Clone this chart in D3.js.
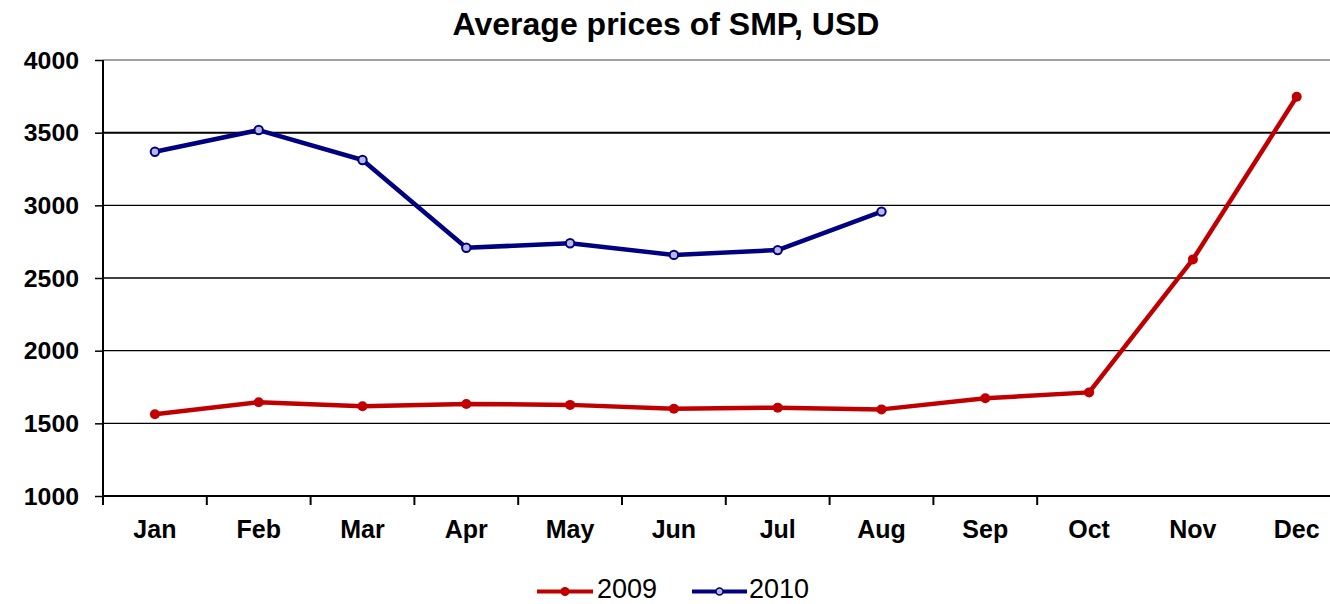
<!DOCTYPE html>
<html><head><meta charset="utf-8">
<script src="https://cdn.jsdelivr.net/npm/d3@7"></script>
<style>
html,body{margin:0;padding:0;background:#fff;}
svg{display:block;}
text{font-family:"Liberation Sans",Arial,sans-serif;}
</style></head>
<body>
<svg id="chart" width="1330" height="604"></svg>
<script>
const months = ["Jan","Feb","Mar","Apr","May","Jun","Jul","Aug","Sep","Oct","Nov","Dec"];
const values2009 = [1562,1645,1617,1633,1627,1600,1608,1596,1672,1713,2628,3747];
const values2010 = [3369,3518,3312,2708,2739,2659,2692,2957];
const yTicks = [1000,1500,2000,2500,3000,3500,4000];
const seriesNames = ["2009","2010"];
const colors = {"2009":"#C00000","2010":"#000080"};

const svg = d3.select("#chart");
const x = d3.scaleBand().domain(months).range([103, 103 + 12*103.8]);
const y = d3.scaleLinear().domain([1000,4000]).range([496,60]);

// title
svg.append("text").attr("x",666).attr("y",35).attr("text-anchor","middle")
  .attr("font-size",32).attr("font-weight","bold").attr("fill","#000")
  .text("Average prices of SMP, USD");

// gridlines
svg.append("g").selectAll("line").data(yTicks.filter(d=>d>1000)).join("line")
  .attr("x1",103).attr("x2",1330)
  .attr("y1",d=>y(d)).attr("y2",d=>y(d))
  .attr("stroke",d=>d===4000?"#808080":"#000")
  .attr("stroke-width",d=>d===3500?2:1.3);

// y axis
const yAxis = d3.axisLeft(y).tickValues(yTicks).tickSize(8).tickPadding(14).tickFormat(d3.format("d"));
const gy = svg.append("g").attr("transform","translate(103,0)").call(yAxis);
gy.select(".domain").attr("stroke","#000").attr("stroke-width",2).attr("d","M0,60V496");
gy.selectAll(".tick line").attr("stroke","#000").attr("stroke-width",1.5);
gy.selectAll(".tick text").attr("font-size",23).attr("font-weight","bold").attr("fill","#000")
  .attr("font-family","'Liberation Sans',Arial,sans-serif").attr("transform","scale(1.08,1)").attr("dy","0.35em");
gy.selectAll(".tick text").attr("x",-24/1.08);

// x axis
const gx = svg.append("g").attr("transform","translate(0,496)");
gx.append("line").attr("x1",103).attr("x2",1330).attr("y1",0).attr("y2",0).attr("stroke","#000").attr("stroke-width",2);
gx.selectAll("line.tk").data(months.slice(0,10)).join("line").attr("class","tk")
  .attr("x1",d=>x(d)).attr("x2",d=>x(d)).attr("y1",0).attr("y2",9)
  .attr("stroke","#000").attr("stroke-width",2);
gx.selectAll("text").data(months).join("text")
  .attr("x",d=>x(d)+x.bandwidth()/2).attr("y",42).attr("text-anchor","middle")
  .attr("font-size",25).attr("font-weight","bold").attr("fill","#000")
  .text(d=>d);

// lines
const line = d3.line().x((d,i)=>x(months[i])+x.bandwidth()/2).y(d=>y(d));
const data = {"2009":values2009,"2010":values2010};
seriesNames.forEach(name=>{
  const vals = data[name];
  svg.append("path").datum(vals).attr("d",line).attr("fill","none")
    .attr("stroke",colors[name]).attr("stroke-width",4.5).attr("stroke-linejoin","round");
  svg.append("g").selectAll("circle").data(vals).join("circle")
    .attr("cx",(d,i)=>x(months[i])+x.bandwidth()/2).attr("cy",d=>y(d))
    .attr("r",name==="2009"?5:4.2)
    .attr("fill",name==="2009"?colors[name]:"#b8b8e0")
    .attr("stroke",colors[name]).attr("stroke-width",name==="2009"?0:2);
});

// legend
const legend = svg.append("g");
const legItems = [{name:"2009",x1:537,x2:593,tx:597},{name:"2010",x1:692,x2:747,tx:749}];
legItems.forEach(it=>{
  legend.append("line").attr("x1",it.x1).attr("x2",it.x2).attr("y1",591.5).attr("y2",591.5)
    .attr("stroke",colors[it.name]).attr("stroke-width",4);
  legend.append("circle").attr("cx",(it.x1+it.x2)/2).attr("cy",591.5).attr("r",it.name==="2009"?4.5:3.5)
    .attr("fill",it.name==="2009"?colors[it.name]:"#b8b8e0").attr("stroke",colors[it.name]).attr("stroke-width",it.name==="2009"?0:1.5);
  legend.append("text").attr("x",it.tx).attr("y",598).attr("font-size",27).attr("fill","#000").text(it.name);
});
</script>
</body></html>
